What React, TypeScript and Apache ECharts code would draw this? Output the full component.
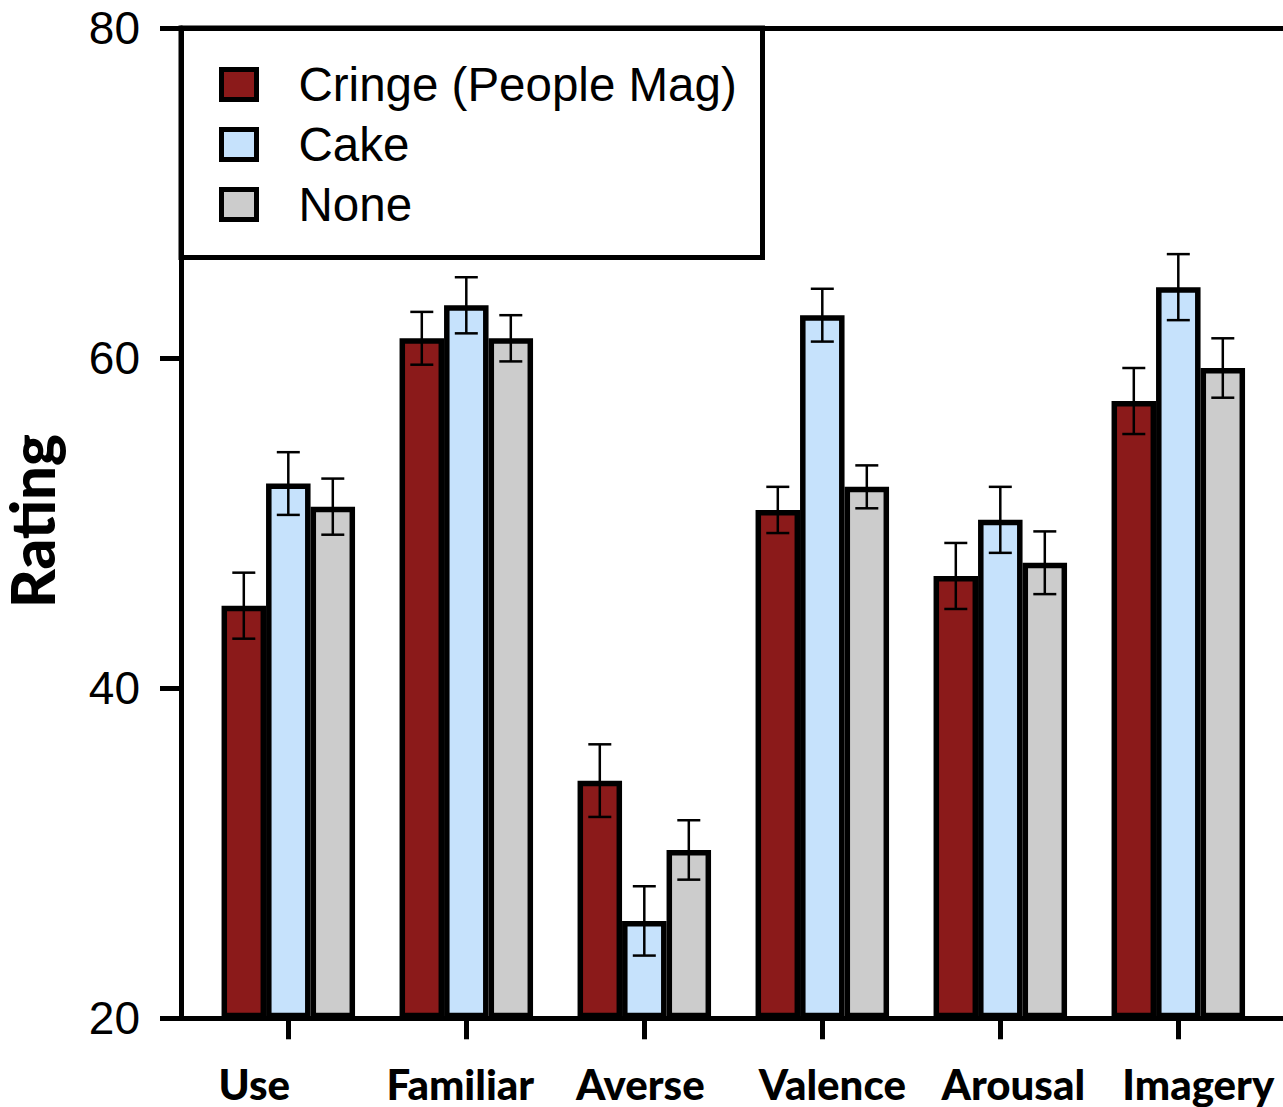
import React, { useEffect, useRef } from "react";
import * as echarts from "echarts";

const categories = ["Use", "Familiar", "Averse", "Valence", "Arousal", "Imagery"];
const seriesNames = ["Cringe (People Mag)", "Cake", "None"];
const cringeMeans = [45.0, 61.2, 34.4, 50.8, 46.8, 57.4];
const cringeErrors = [2.0, 1.6, 2.2, 1.4, 2.0, 2.0];
const cakeMeans = [52.4, 63.2, 25.9, 62.6, 50.2, 64.3];
const cakeErrors = [1.9, 1.7, 2.1, 1.6, 2.0, 2.0];
const noneMeans = [51.0, 61.2, 30.2, 52.2, 47.6, 59.4];
const noneErrors = [1.7, 1.4, 1.8, 1.3, 1.9, 1.8];
const yTicks = [20, 40, 60, 80];
const yLabel = "Rating";

const colors = ["#8b1a1a", "#c6e2fc", "#cccccc"];
const BAR_W = 44.5;
const GRID_TOP = 28;
const GRID_BOTTOM = 88.7;
// horizontal nudges (px) of the category labels relative to their ticks
const labelShift = [-34, -6, -4, 10, 13, 20];

export default function App() {
  const ref = useRef<HTMLDivElement>(null);

  useEffect(() => {
    if (!ref.current) return;
    document.body.style.margin = "0";
    const chart = echarts.init(ref.current, null, { renderer: "svg" });

    const means = [cringeMeans, cakeMeans, noneMeans];
    const errors = [cringeErrors, cakeErrors, noneErrors];

    const labelFont = {
      fontSize: 42,
      fontWeight: 900,
      fontFamily: "Lato",
      color: "#000",
      lineHeight: 40,
    };
    const rich: any = {};
    labelShift.forEach((d, i) => {
      rich["s" + i] = {
        ...labelFont,
        padding: d < 0 ? [0, -2 * d, 0, 0] : [0, 0, 0, 2 * d],
      };
    });

    const barSeries = seriesNames.map((name, s) => ({
      name,
      type: "bar",
      xAxisIndex: 2,
      yAxisIndex: 1,
      data: means[s],
      barWidth: BAR_W,
      barGap: "0%",
      z: 2,
      itemStyle: { color: colors[s], borderColor: "#000", borderWidth: 5.5 },
    }));

    const errSeries = seriesNames.map((name, s) => {
      const offset = (s - 1) * BAR_W;
      return {
        name: name + " error",
        type: "custom",
        xAxisIndex: 2,
        yAxisIndex: 1,
        z: 5,
        encode: { x: 0, y: [1, 2] },
        data: categories.map((_, i) => [i, means[s][i] - errors[s][i], means[s][i] + errors[s][i]]),
        renderItem: (params: any, api: any) => {
          const i = api.value(0);
          const lo = api.coord([i, api.value(1)]);
          const hi = api.coord([i, api.value(2)]);
          const x = lo[0] + offset;
          const cap = 11.5;
          const style = { stroke: "#000", lineWidth: 2.5 };
          return {
            type: "group",
            children: [
              { type: "line", shape: { x1: x, y1: lo[1], x2: x, y2: hi[1] }, style },
              { type: "line", shape: { x1: x - cap, y1: lo[1], x2: x + cap, y2: lo[1] }, style },
              { type: "line", shape: { x1: x - cap, y1: hi[1], x2: x + cap, y2: hi[1] }, style },
            ],
          };
        },
      };
    });

    const option: any = {
      animation: false,
      backgroundColor: "#fff",
      grid: [
        { left: 181, right: 0, top: GRID_TOP, bottom: GRID_BOTTOM },
        { left: 199.3, width: 1068, top: GRID_TOP, bottom: GRID_BOTTOM },
      ],
      xAxis: [
        {
          gridIndex: 0,
          type: "value",
          min: 0,
          max: 1,
          position: "bottom",
          z: 10,
          axisLine: { show: true, lineStyle: { color: "#000", width: 5 } },
          axisTick: { show: false },
          axisLabel: { show: false },
          splitLine: { show: false },
        },
        {
          gridIndex: 0,
          type: "value",
          min: 0,
          max: 1,
          position: "top",
          z: 10,
          axisLine: { show: true, lineStyle: { color: "#000", width: 5 } },
          axisTick: { show: false },
          axisLabel: { show: false },
          splitLine: { show: false },
        },
        {
          gridIndex: 1,
          type: "category",
          data: categories,
          z: 10,
          axisLine: { show: false },
          axisTick: {
            show: true,
            alignWithLabel: true,
            length: 21,
            lineStyle: { color: "#000", width: 5 },
          },
          axisLabel: {
            interval: 0,
            margin: 46,
            ...labelFont,
            formatter: (value: string, index: number) => `{s${index}|${value}}`,
            rich,
          },
          splitLine: { show: false },
        },
      ],
      yAxis: [
        {
          gridIndex: 0,
          type: "value",
          min: yTicks[0],
          max: yTicks[yTicks.length - 1],
          interval: 20,
          z: 10,
          axisLine: { show: true, lineStyle: { color: "#000", width: 5 } },
          axisTick: { show: true, length: 21, lineStyle: { color: "#000", width: 5 } },
          axisLabel: {
            margin: 41,
            fontSize: 46,
            fontFamily: "Liberation Sans, Arial, sans-serif",
            color: "#000",
          },
          splitLine: { show: false },
        },
        {
          gridIndex: 1,
          type: "value",
          min: yTicks[0],
          max: yTicks[yTicks.length - 1],
          interval: 20,
          startValue: yTicks[0],
          show: false,
          splitLine: { show: false },
        },
      ],
      legend: {
        data: seriesNames,
        orient: "vertical",
        left: 219,
        top: 60.5,
        padding: 0,
        itemWidth: 35,
        itemHeight: 30,
        itemGap: 12,
        icon: "rect",
        selectedMode: false,
        itemStyle: { borderColor: "#000", borderWidth: 5 },
        textStyle: {
          fontSize: 47.5,
          lineHeight: 45,
          fontFamily: "Liberation Sans, Arial, sans-serif",
          color: "#000",
          padding: [0, 0, 0, 37],
        },
      },
      graphic: [
        {
          type: "rect",
          z: 10,
          shape: { x: 181, y: 28, width: 581.5, height: 229.5 },
          style: { fill: "none", stroke: "#000", lineWidth: 5 },
        },
        {
          type: "text",
          x: 32,
          y: 521,
          rotation: Math.PI / 2,
          style: {
            text: yLabel,
            fontSize: 60,
            fontWeight: 900,
            fontFamily: "Lato",
            fill: "#000",
            align: "center",
            verticalAlign: "middle",
          },
        },
      ],
      series: [...barSeries, ...errSeries],
    };

    chart.setOption(option);
    return () => chart.dispose();
  }, []);

  return (
    <div
      ref={ref}
      style={{ position: "absolute", left: 0, top: 0, width: 1283, height: 1107 }}
    />
  );
}
